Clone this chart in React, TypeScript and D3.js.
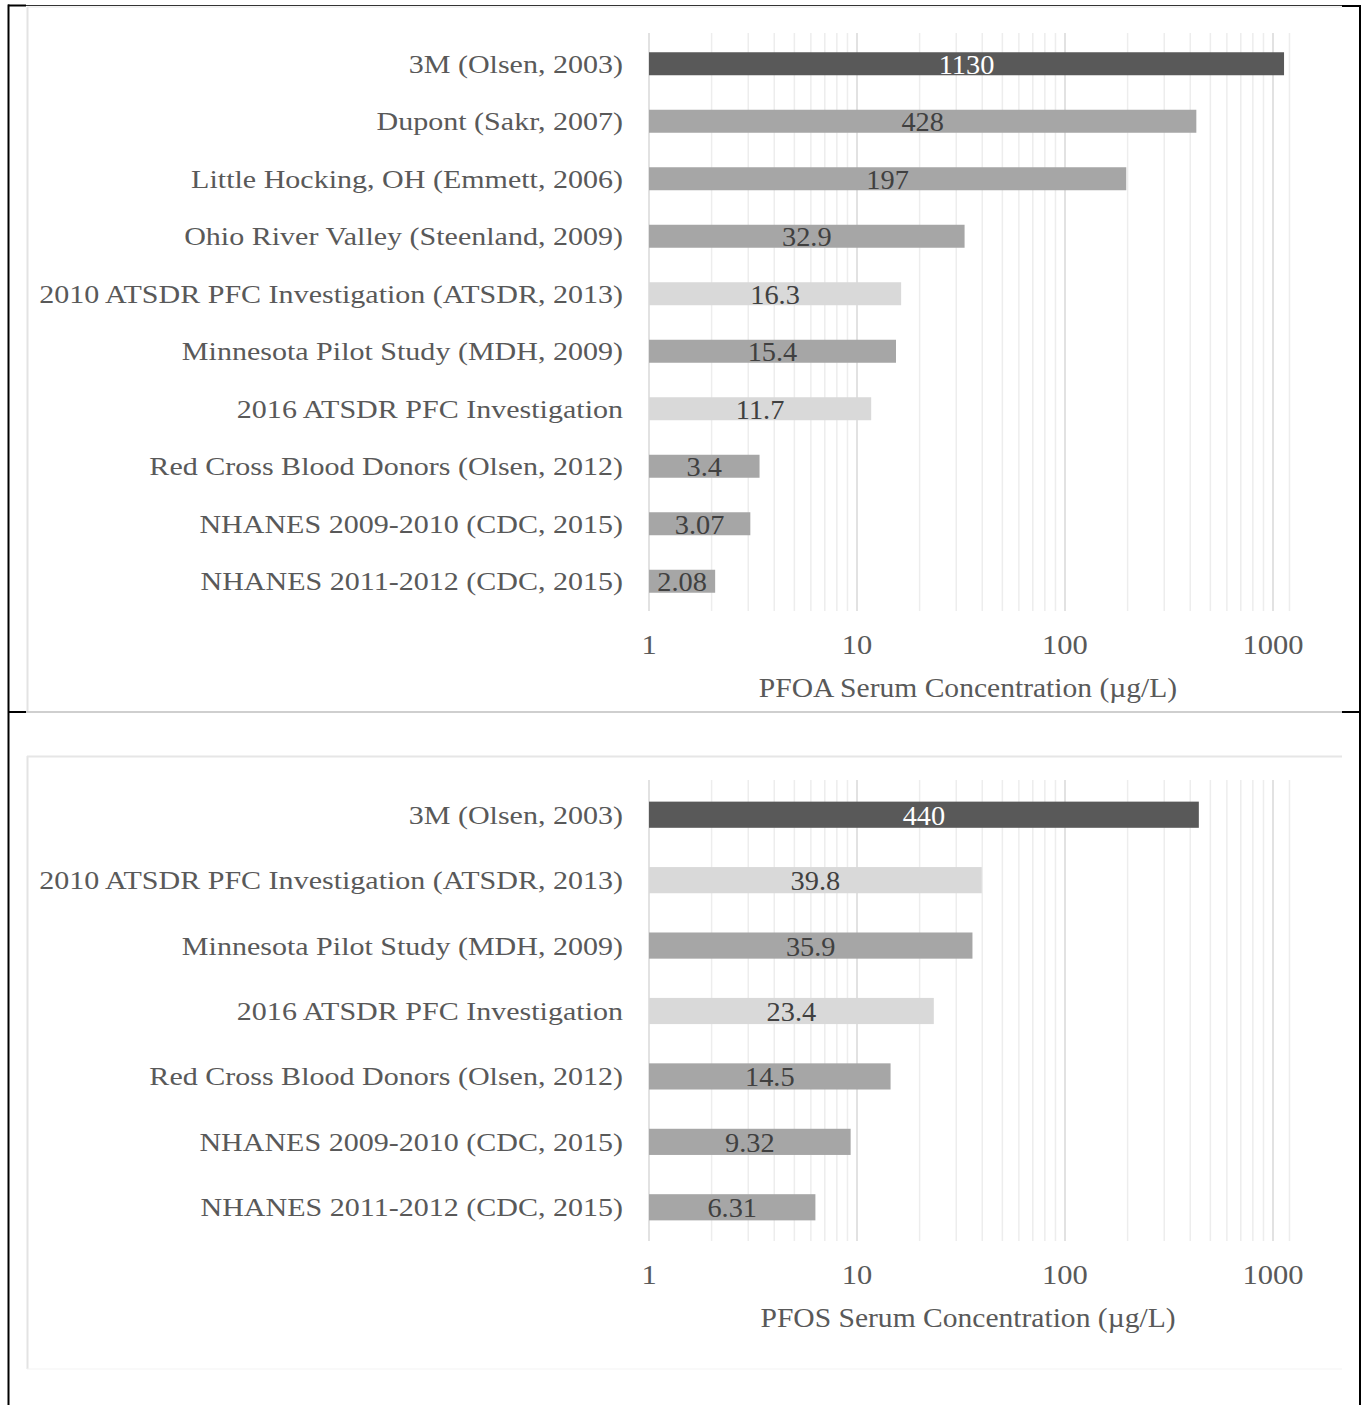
import React from 'react';
import * as d3 from 'd3';

// PFOA panel
const pfoaStudies = [
  '3M (Olsen, 2003)',
  'Dupont (Sakr, 2007)',
  'Little Hocking, OH (Emmett, 2006)',
  'Ohio River Valley (Steenland, 2009)',
  '2010 ATSDR PFC Investigation (ATSDR, 2013)',
  'Minnesota Pilot Study (MDH, 2009)',
  '2016 ATSDR PFC Investigation',
  'Red Cross Blood Donors (Olsen, 2012)',
  'NHANES 2009-2010 (CDC, 2015)',
  'NHANES 2011-2012 (CDC, 2015)',
];
const pfoaValues = [1130, 428, 197, 32.9, 16.3, 15.4, 11.7, 3.4, 3.07, 2.08];
const pfoaGroups = ['occupational', 'other', 'other', 'other', 'atsdr', 'other', 'atsdr', 'other', 'other', 'other'];

// PFOS panel
const pfosStudies = [
  '3M (Olsen, 2003)',
  '2010 ATSDR PFC Investigation (ATSDR, 2013)',
  'Minnesota Pilot Study (MDH, 2009)',
  '2016 ATSDR PFC Investigation',
  'Red Cross Blood Donors (Olsen, 2012)',
  'NHANES 2009-2010 (CDC, 2015)',
  'NHANES 2011-2012 (CDC, 2015)',
];
const pfosValues = [440, 39.8, 35.9, 23.4, 14.5, 9.32, 6.31];
const pfosGroups = ['occupational', 'atsdr', 'other', 'atsdr', 'other', 'other', 'other'];

const tickValues = [1, 10, 100, 1000];
const axisMax = 1200;

const groupFill: Record<string, string> = {
  occupational: '#595959',
  atsdr: '#d9d9d9',
  other: '#a6a6a6',
};

const FONT = '"Liberation Serif", "Times New Roman", serif';

interface PanelProps {
  studies: string[];
  values: number[];
  groups: string[];
  title: string;
  top: number;
  bottom: number;
}

const Panel: React.FC<PanelProps> = ({ studies, values, groups, title, top, bottom }) => {
  const x = d3.scaleLog().domain([1, axisMax]).range([649, 649 + Math.log10(axisMax) * 208]);
  const y = d3.scaleBand<string>().domain(studies).range([top, bottom]).padding(0);
  const bw = y.bandwidth();
  const barH = bw * 0.4;

  const grid = x.ticks().filter(t => t <= axisMax);

  return (
    <g>
      {/* gridlines */}
      {grid.map(t => {
        const major = tickValues.includes(t);
        return (
          <line
            key={t}
            x1={x(t)} x2={x(t)} y1={top - 2} y2={bottom + 1}
            stroke={major ? '#d9d9d9' : '#ededed'}
            strokeWidth={1.5}
          />
        );
      })}
      <line x1={x(axisMax)} x2={x(axisMax)} y1={top - 2} y2={bottom + 1} stroke="#ededed" strokeWidth={1.5} />

      {/* bars */}
      {studies.map((s, i) => {
        const cy = (y(s) as number) + bw / 2;
        const x0 = x(1);
        const x1 = x(values[i]);
        const dark = groups[i] === 'occupational';
        return (
          <g key={s}>
            <rect x={x0} y={cy - barH / 2} width={x1 - x0} height={barH} fill={groupFill[groups[i]]} />
            <text
              transform={`translate(${(x0 + x1) / 2},${cy + 10}) scale(1.05,1)`}
              textAnchor="middle"
              fontSize={27}
              fontFamily={FONT}
              fill={dark ? '#ffffff' : '#404040'}
            >
              {values[i]}
            </text>
            <text
              transform={`translate(623,${cy + 9}) scale(1.155,1)`}
              textAnchor="end"
              fontSize={26}
              fontFamily={FONT}
              fill="#595959"
            >
              {s}
            </text>
          </g>
        );
      })}

      {/* tick labels */}
      {tickValues.map(t => (
        <text
          key={t}
          transform={`translate(${x(t)},${bottom + 44}) scale(1.09,1)`}
          textAnchor="middle"
          fontSize={28}
          fontFamily={FONT}
          fill="#595959"
        >
          {d3.format('d')(t)}
        </text>
      ))}
      <text
        transform={`translate(968,${bottom + 87}) scale(1.095,1)`}
        textAnchor="middle"
        fontSize={27}
        fontFamily={FONT}
        fill="#595959"
      >
        {title}
      </text>
    </g>
  );
};

export default function App() {
  return (
    <svg
      width={1365}
      height={1405}
      style={{ position: 'absolute', left: 0, top: 0, background: '#ffffff' }}
    >
      <rect width={1365} height={1405} fill="#ffffff" />

      {/* chart frames */}
      <line x1={27.5} x2={27.5} y1={7} y2={712} stroke="#e3e3e3" strokeWidth={2} />
      <line x1={27} x2={1342} y1={7} y2={7} stroke="#e6e6e6" strokeWidth={1} />
      <line x1={27.5} x2={27.5} y1={756} y2={1369} stroke="#e3e3e3" strokeWidth={2} />
      <line x1={27} x2={1342} y1={756.5} y2={756.5} stroke="#e6e6e6" strokeWidth={2} />
      <line x1={27} x2={1342} y1={1369} y2={1369} stroke="#f3f3f3" strokeWidth={1} />

      {/* table borders */}
      <line x1={8} x2={1342} y1={5.5} y2={5.5} stroke="#333333" strokeWidth={1.2} />
      <line x1={8} x2={26} y1={5.5} y2={5.5} stroke="#000000" strokeWidth={2} />
      <line x1={1342} x2={1361} y1={6} y2={6} stroke="#000000" strokeWidth={2} />
      <line x1={8.5} x2={8.5} y1={4.5} y2={1405} stroke="#000000" strokeWidth={2} />
      <line x1={1360} x2={1360} y1={5} y2={1405} stroke="#000000" strokeWidth={2} />
      <line x1={26} x2={1342} y1={712} y2={712} stroke="#bfbfbf" strokeWidth={1.5} />
      <line x1={8} x2={26} y1={712} y2={712} stroke="#000000" strokeWidth={2} />
      <line x1={1342} x2={1361} y1={712} y2={712} stroke="#000000" strokeWidth={2} />

      <Panel
        studies={pfoaStudies}
        values={pfoaValues}
        groups={pfoaGroups}
        title="PFOA Serum Concentration (µg/L)"
        top={35}
        bottom={610}
      />
      <Panel
        studies={pfosStudies}
        values={pfosValues}
        groups={pfosGroups}
        title="PFOS Serum Concentration (µg/L)"
        top={782}
        bottom={1240}
      />
    </svg>
  );
}
